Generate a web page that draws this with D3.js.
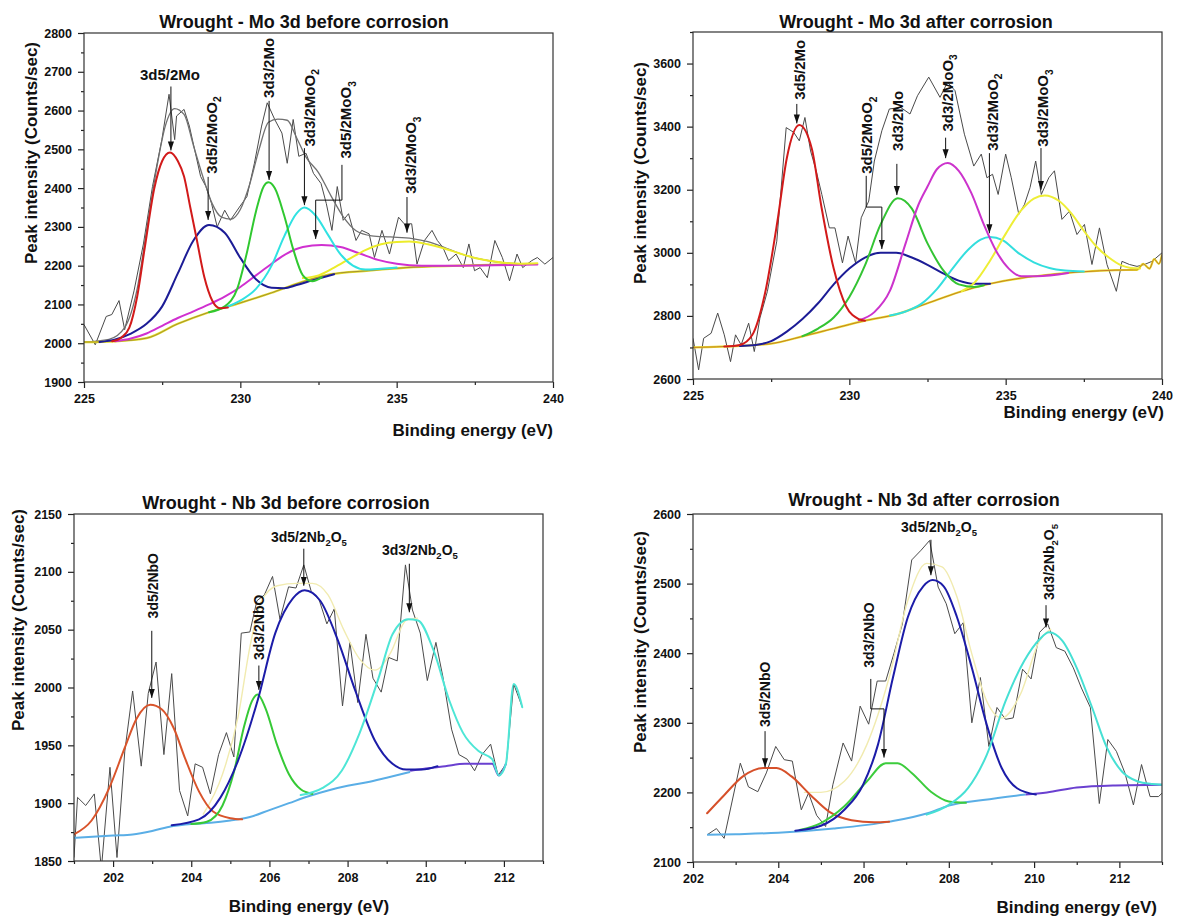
<!DOCTYPE html>
<html>
<head>
<meta charset="utf-8">
<script src="https://cdn.jsdelivr.net/npm/d3@7"></script>
<style>
  body { margin: 0; background: #fff; }
  svg { display: block; font-family: "Liberation Sans", Arial, sans-serif; }
</style>
</head>
<body>
<svg id="chart" width="1177" height="921"></svg>
<script>
// ---- Mo 3d before corrosion ----
const moBeforeE = [225.0,225.36,225.71,225.89,226.12,226.3,226.6,226.9,227.19,227.49,227.72,227.9,227.96,228.2,228.37,228.73,228.9,229.08,229.26,229.5,229.68,229.97,230.21,230.45,230.68,230.86,231.1,231.33,231.5,231.69,231.87,232.1,232.34,232.58,232.75,232.93,233.1,233.29,233.46,233.7,233.88,234.12,234.29,234.53,234.77,235.06,235.24,235.48,235.65,235.89,236.13,236.3,236.48,236.66,236.9,237.13,237.31,237.49,237.67,237.9,238.14,238.38,238.61,238.85,239.03,239.32,239.5,239.74,240.0]
const moBeforeC = [2048,1996,2069,2074,2110,2035,2135,2256,2404,2525,2642,2525,2586,2603,2560,2430,2404,2360,2300,2343,2317,2351,2378,2464,2560,2620,2577,2542,2464,2577,2482,2490,2438,2412,2360,2291,2404,2317,2334,2265,2291,2282,2221,2291,2230,2325,2308,2308,2204,2265,2291,2265,2247,2213,2230,2195,2256,2187,2195,2169,2265,2221,2161,2230,2195,2213,2221,2204,2221]
const moBeforeEnvelope = [[225.0,2003],[225.8,2010],[226.3,2040],[226.7,2140],[227.0,2290],[227.3,2440],[227.6,2560],[227.9,2605],[228.2,2590],[228.5,2510],[228.8,2430],[229.1,2360],[229.4,2325],[229.7,2320],[230.0,2345],[230.3,2410],[230.6,2500],[230.9,2570],[231.2,2578],[231.5,2575],[231.8,2530],[232.1,2480],[232.5,2440],[232.9,2380],[233.3,2325],[233.7,2290],[234.2,2277],[234.8,2274],[235.5,2270],[236.0,2262],[236.5,2248],[237.0,2232],[237.5,2220],[238.0,2212],[238.5,2207],[239.3,2205]]
const moBeforeBase = [[225,2003],[226,2005],[227,2013],[228,2050],[229,2080],[230,2104],[231,2130],[231.75,2152],[232.9,2178],[234.1,2187],[235.3,2195],[237,2200],[239.3,2205]]
const moBeforeRed = [[225.9,2005],[226.2,2015],[226.45,2040],[226.7,2120],[226.95,2250],[227.25,2400],[227.5,2470],[227.75,2492],[228.0,2470],[228.2,2430],[228.4,2350],[228.6,2270],[228.85,2170],[229.1,2110],[229.35,2090],[229.6,2092]]
const moBeforeBlue = [[225.5,2003],[226.0,2010],[226.5,2025],[227.0,2050],[227.5,2095],[228.0,2180],[228.5,2265],[229.0,2305],[229.5,2285],[230.0,2220],[230.5,2165],[231.0,2143],[231.4,2142],[231.8,2150],[232.3,2162],[233.0,2178]]
const moBeforeGreen = [[229.0,2080],[229.5,2095],[229.9,2140],[230.2,2230],[230.5,2340],[230.75,2405],[230.9,2415],[231.1,2400],[231.4,2330],[231.7,2240],[232.0,2175],[232.3,2160],[232.6,2170]]
const moBeforeCyan = [[229.5,2092],[230.0,2110],[230.5,2140],[231.0,2200],[231.4,2275],[231.8,2335],[232.05,2350],[232.4,2330],[232.8,2280],[233.2,2230],[233.6,2200],[234.0,2190],[234.5,2192],[235.0,2195]]
const moBeforeMagenta = [[226.0,2005],[226.5,2012],[227.0,2025],[227.5,2045],[228.0,2065],[228.5,2082],[229.0,2100],[229.5,2120],[230.0,2145],[230.5,2175],[231.0,2205],[231.5,2232],[232.0,2248],[232.6,2253],[233.2,2248],[233.8,2232],[234.4,2215],[235.0,2205],[235.8,2200],[237.0,2200],[239.5,2203]]
const moBeforeYellow = [[232.0,2168],[232.5,2175],[233.0,2195],[233.5,2218],[234.0,2240],[234.5,2255],[235.0,2261],[235.4,2262],[236.0,2255],[236.5,2245],[237.0,2232],[237.5,2220],[238.0,2212],[238.5,2207],[239.0,2205],[239.5,2206]]

// ---- Mo 3d after corrosion ----
const moAfterE = [225.0,225.18,225.34,225.58,225.79,226.0,226.2,226.36,226.54,226.78,226.96,227.14,227.38,227.68,227.98,228.22,228.4,228.58,228.76,228.94,229.12,229.36,229.54,229.78,229.96,230.2,230.38,230.62,230.8,231.04,231.28,231.64,231.94,232.18,232.54,232.9,233.14,233.38,233.68,233.98,234.22,234.4,234.58,234.76,235.0,235.18,235.42,235.6,235.78,235.96,236.14,236.38,236.56,236.8,237.04,237.28,237.52,237.76,238.0,238.24,238.54,238.72,238.96,239.2,239.44,239.68,240.0]
const moAfterC = [2729,2629,2729,2745,2809,2740,2655,2740,2708,2777,2687,2793,2878,3037,3397,3382,3355,3429,3323,3260,3185,3079,3079,2968,3053,2968,3111,3164,3291,3387,3456,3461,3440,3498,3557,3493,3541,3514,3376,3275,3313,3238,3249,3185,3313,3238,3122,3153,3207,3291,3185,3238,3260,3106,3132,3058,3090,2963,3079,2963,2878,2973,2963,2957,2963,2973,3000]
const moAfterBase = [[225,2700],[226.5,2705],[227.5,2712],[228.5,2735],[229.5,2760],[230.5,2785],[231.5,2805],[232.5,2840],[233.5,2875],[234.5,2902],[235.5,2920],[236.5,2932],[237.5,2940],[238.5,2945],[239.2,2946],[239.4,2965],[239.6,2950],[239.75,2980],[239.9,2965],[240,2995]]
const moAfterRed = [[226.0,2703],[226.5,2708],[226.9,2740],[227.3,2870],[227.7,3100],[228.0,3300],[228.4,3405],[228.8,3330],[229.1,3150],[229.5,2950],[229.9,2830],[230.3,2790],[230.5,2785]]
const moAfterBlue = [[226.5,2705],[227.0,2708],[227.5,2720],[228.0,2750],[228.5,2790],[229.0,2840],[229.5,2900],[230.0,2950],[230.5,2985],[231.0,3000],[231.5,3000],[232.0,2985],[232.5,2962],[233.0,2935],[233.5,2912],[234.0,2902],[234.5,2902]]
const moAfterGreen = [[228.5,2736],[229.0,2760],[229.5,2795],[230.0,2860],[230.5,2960],[231.0,3090],[231.55,3173],[232.0,3140],[232.5,3030],[233.0,2945],[233.5,2900],[234.0,2892],[234.3,2897]]
const moAfterMagenta = [[230.3,2786],[230.8,2812],[231.3,2880],[231.8,3030],[232.2,3150],[232.5,3210],[232.8,3265],[233.15,3285],[233.5,3260],[233.9,3190],[234.3,3090],[234.7,3005],[235.1,2950],[235.5,2926],[236.0,2926],[237.0,2936]]
const moAfterCyan = [[231.3,2801],[231.8,2814],[232.3,2838],[232.8,2885],[233.3,2950],[233.8,3010],[234.2,3042],[234.5,3050],[234.9,3040],[235.4,3000],[235.9,2970],[236.4,2952],[236.9,2944],[237.5,2941]]
const moAfterYellow = [[233.6,2879],[234.0,2905],[234.5,2975],[235.0,3060],[235.5,3135],[235.9,3172],[236.25,3182],[236.7,3165],[237.1,3125],[237.5,3070],[237.9,3020],[238.3,2985],[238.7,2960],[239.0,2952],[239.3,2950]]

// ---- Nb 3d before corrosion ----
const nbBeforeE = [201.0,201.09,201.3,201.52,201.7,201.92,202.1,202.3,202.5,202.72,202.9,203.1,203.3,203.5,203.7,203.91,204.1,204.29,204.49,204.7,204.9,205.09,205.28,205.5,205.68,205.87,206.08,206.27,206.49,206.68,206.88,207.07,207.27,207.47,207.66,207.87,208.06,208.26,208.47,208.65,208.86,209.05,209.27,209.48,209.66,209.86,210.04,210.26,210.44,210.66,210.85,211.06,211.25,211.44,211.66,211.85,212.06,212.25,212.47]
const nbBeforeC = [1853,1905,1898,1908,1843,1931,1853,1945,1997,1932,1995,2022,1942,2012,1911,1889,1934,1931,1908,1942,1961,1940,2047,2048,2075,2080,2096,2059,2087,2086,2106,2083,2076,2055,2068,1984,2039,1987,2046,2008,1996,2026,2023,2106,2067,2047,2006,2039,2009,1964,1942,1938,1928,1942,1951,1924,1934,2003,1983]
const nbBeforeEnvelope = [[204.3,1890],[204.8,1925],[205.2,1975],[205.5,2035],[205.8,2075],[206.2,2088],[206.7,2090],[207.1,2090],[207.5,2080],[207.9,2050],[208.3,2025],[208.7,2015],[209.1,2030],[209.5,2058],[209.8,2060]]
const nbBeforeBase = [[201.0,1870],[202.0,1872],[202.5,1873],[203.0,1876],[203.5,1880],[204.0,1882],[204.5,1883],[205.0,1885],[205.5,1888],[206.0,1894],[206.5,1900],[207.0,1906],[207.5,1911],[208.0,1915],[208.5,1918],[209.0,1922],[209.6,1927]]
const nbBeforeTail = [[209.6,1928],[210.0,1930],[210.5,1932],[211.0,1934],[211.7,1934],[211.87,1924],[212.05,1934]]
const nbBeforeOrange = [[201.0,1873],[201.45,1885],[201.9,1913],[202.3,1948],[202.6,1973],[202.95,1985],[203.25,1981],[203.55,1965],[203.85,1938],[204.2,1910],[204.55,1893],[205.0,1887],[205.3,1886]]
const nbBeforeGreen = [[204.0,1882],[204.4,1884],[204.8,1898],[205.1,1928],[205.35,1966],[205.55,1988],[205.7,1994],[205.9,1982],[206.2,1950],[206.5,1925],[206.8,1912],[207.1,1908]]
const nbBeforeBlue = [[203.5,1881],[204.2,1886],[204.75,1905],[205.2,1937],[205.7,1989],[206.15,2047],[206.6,2077],[206.9,2084],[207.3,2075],[207.75,2041],[208.2,1997],[208.7,1954],[209.15,1934],[209.5,1929],[209.9,1929],[210.3,1932]]
const nbBeforeCyan = [[206.8,1907],[207.35,1913],[207.85,1928],[208.3,1960],[208.8,2009],[209.15,2046],[209.55,2059],[209.8,2058],[210.2,2032],[210.6,1989],[210.95,1961],[211.35,1945],[211.7,1938],[211.87,1924],[212.05,1934],[212.25,2003],[212.47,1983]]

// ---- Nb 3d after corrosion ----
const nbAfterE = [202.33,202.55,202.73,203.11,203.3,203.52,203.72,203.94,204.14,204.33,204.54,204.71,204.9,205.11,205.28,205.52,205.72,205.92,206.12,206.32,206.52,206.71,206.91,207.13,207.35,207.55,207.75,207.94,208.14,208.34,208.54,208.74,208.94,209.13,209.33,209.51,209.73,209.93,210.13,210.32,210.52,210.72,210.92,211.11,211.32,211.53,211.73,211.93,212.13,212.33,212.52,212.72,212.92,213.0]
const nbAfterC = [2139,2148,2134,2242,2208,2201,2228,2266,2247,2245,2175,2199,2167,2151,2211,2271,2245,2324,2298,2360,2360,2399,2442,2534,2548,2562,2495,2471,2428,2444,2300,2365,2266,2322,2305,2307,2377,2363,2430,2442,2408,2403,2379,2350,2322,2184,2276,2259,2228,2182,2240,2194,2194,2199]
const nbAfterEnvelope = [[204.6,2200],[205.0,2200],[205.55,2216],[206.08,2269],[206.6,2365],[207.04,2476],[207.48,2529],[207.84,2524],[208.19,2481],[208.54,2399],[208.89,2331],[209.24,2307],[209.68,2341],[210.13,2418],[210.4,2435]]
const nbAfterBase = [[202.33,2139],[203.0,2140],[204.0,2142],[205.3,2148],[206.6,2158],[207.5,2170],[208.0,2181],[208.8,2189],[209.8,2197]]
const nbAfterTail = [[209.8,2197],[210.3,2200],[211.0,2207],[211.9,2210],[213.0,2211]]
const nbAfterOrange = [[202.33,2170],[202.73,2196],[203.17,2223],[203.65,2235],[203.96,2235],[204.31,2223],[204.76,2196],[205.2,2172],[205.72,2160],[206.25,2157],[206.6,2158]]
const nbAfterGreen = [[204.5,2146],[205.0,2156],[205.55,2180],[206.08,2216],[206.52,2242],[206.8,2242],[207.13,2228],[207.58,2201],[208.0,2187],[208.4,2185]]
const nbAfterBlue = [[204.4,2145],[205.0,2152],[205.55,2175],[205.99,2211],[206.34,2269],[206.69,2365],[207.04,2452],[207.4,2496],[207.62,2505],[207.88,2496],[208.19,2452],[208.54,2379],[208.89,2297],[209.24,2235],[209.6,2206],[210.04,2197]]
const nbAfterCyan = [[207.48,2168],[208.0,2182],[208.45,2206],[208.89,2254],[209.33,2331],[209.77,2389],[210.13,2420],[210.35,2430],[210.66,2418],[211.0,2379],[211.36,2322],[211.71,2264],[212.06,2230],[212.42,2216],[212.77,2212],[213.0,2211]]

// ---- tick values ----
const moXTicks = [225, 230, 235, 240]
const moBeforeYTicks = [1900, 2000, 2100, 2200, 2300, 2400, 2500, 2600, 2700, 2800]
const moAfterYTicks = [2600, 2800, 3000, 3200, 3400, 3600]
const nbXTicks = [202, 204, 206, 208, 210, 212]
const nbBeforeYTicks = [1850, 1900, 1950, 2000, 2050, 2100, 2150]
const nbAfterYTicks = [2100, 2200, 2300, 2400, 2500, 2600]

// ---- peak annotations (data coords) ----
const moBeforeLabels = [
  { t: '3d5/2Mo', x: 227.75, y: 2694, rot: false, arrow: [[227.78, 2662], [227.78, 2497]] },
  { t: '3d5/2MoO_2', x: 229.08, y: 2537, rot: true, arrow: [[228.97, 2429], [228.97, 2318]] },
  { t: '3d3/2Mo', x: 230.92, y: 2710, rot: true, arrow: [[230.92, 2625], [230.92, 2421]] },
  { t: '3d3/2MoO_2', x: 232.2, y: 2607, rot: true, arrow: [[232.05, 2503], [232.05, 2356]] },
  { t: '3d5/2MoO_3', x: 233.38, y: 2576, rot: true, arrow: [[233.25, 2460], [233.25, 2369], [232.41, 2369], [232.41, 2269]] },
  { t: '3d3/2MoO_3', x: 235.45, y: 2485, rot: true, arrow: [[235.33, 2377], [235.33, 2285]] }
]
const moAfterLabels = [
  { t: '3d5/2Mo', x: 228.41, y: 3580, rot: true, arrow: [[228.32, 3472], [228.32, 3410]] },
  { t: '3d5/2MoO_2', x: 230.56, y: 3373, rot: true, arrow: [[230.54, 3244], [230.54, 3145], [231.04, 3145], [231.04, 3012]] },
  { t: '3d3/2Mo', x: 231.55, y: 3418, rot: true, arrow: [[231.52, 3282], [231.52, 3183]] },
  { t: '3d3/2MoO_3', x: 233.14, y: 3507, rot: true, arrow: [[233.08, 3365], [233.08, 3300]] },
  { t: '3d3/2MoO_2', x: 234.58, y: 3446, rot: true, arrow: [[234.48, 3316], [234.48, 3062]] },
  { t: '3d3/2MoO_3', x: 236.19, y: 3459, rot: true, arrow: [[236.13, 3332], [236.13, 3200]] }
]
const nbBeforeLabels = [
  { t: '3d5/2NbO', x: 203.03, y: 2088, rot: true, arrow: [[202.99, 2049], [202.99, 1991]] },
  { t: '3d3/2NbO', x: 205.73, y: 2052, rot: true, arrow: [[205.73, 2019], [205.73, 1998]] },
  { t: '3d5/2Nb_2O_5', x: 207.01, y: 2130, rot: false, arrow: [[206.88, 2120], [206.88, 2088]] },
  { t: '3d3/2Nb_2O_5', x: 209.85, y: 2119, rot: false, arrow: [[209.58, 2107], [209.58, 2065]] }
]
const nbAfterLabels = [
  { t: '3d5/2NbO', x: 203.69, y: 2341, rot: true, arrow: [[203.69, 2288], [203.69, 2236]] },
  { t: '3d3/2NbO', x: 206.13, y: 2426, rot: true, arrow: [[206.17, 2363], [206.17, 2320], [206.48, 2320], [206.48, 2250]] },
  { t: '3d5/2Nb_2O_5', x: 207.77, y: 2581, rot: false, arrow: [[207.58, 2563], [207.58, 2512]] },
  { t: '3d3/2Nb_2O_5', x: 210.34, y: 2531, rot: true, arrow: [[210.28, 2469], [210.28, 2437]] }
]

const panels = [
  {
    title: 'Wrought - Mo 3d before corrosion', titleX: 304, titleY: 28,
    box: [84, 33, 469, 349], xDomain: [225, 240], yDomain: [1900, 2800],
    xTicks: moXTicks, xMinor: [227.5, 232.5, 237.5], yTicks: moBeforeYTicks, yMinor: d3.range(1950, 2800, 100),
    yLabel: [31, 153], xLabel: { x: 553, y: 436, anchor: 'end' },
    raw: [moBeforeE, moBeforeC], envelope: moBeforeEnvelope,
    base: [{ d: moBeforeBase, c: '#e4dc26', w: 2.2 }, { d: moBeforeBase, c: '#8a7234', w: 0.7 }],
    comps: [
      { d: moBeforeMagenta, c: '#d030d0' }, { d: moBeforeYellow, c: '#ecec2a' },
      { d: moBeforeBlue, c: '#1c1c96' }, { d: moBeforeCyan, c: '#30e2e2' },
      { d: moBeforeGreen, c: '#30c830' }, { d: moBeforeRed, c: '#d21a1a' }
    ],
    labels: moBeforeLabels, fs: 15
  },
  {
    title: 'Wrought - Mo 3d after corrosion', titleX: 916, titleY: 28,
    box: [693, 32, 469, 347], xDomain: [225, 240], yDomain: [2600, 3700],
    xTicks: moXTicks, xMinor: [227.5, 232.5, 237.5], yTicks: moAfterYTicks, yMinor: d3.range(2700, 3701, 200),
    yLabel: [640, 173], xLabel: { x: 1164, y: 418, anchor: 'end' },
    raw: [moAfterE, moAfterC], envelope: null,
    base: [{ d: moAfterBase, c: '#e8e030', w: 2.2 }, { d: moAfterBase, c: '#b8561e', w: 0.7 }],
    comps: [
      { d: moAfterBlue, c: '#1c1c96' }, { d: moAfterCyan, c: '#33dede' },
      { d: moAfterYellow, c: '#eeee36' }, { d: moAfterGreen, c: '#33c433' },
      { d: moAfterMagenta, c: '#cc33cc' }, { d: moAfterRed, c: '#d21a1a' }
    ],
    labels: moAfterLabels, fs: 15
  },
  {
    title: 'Wrought - Nb 3d before corrosion', titleX: 286, titleY: 509,
    box: [74, 514, 469, 347], xDomain: [201, 213], yDomain: [1850, 2150],
    xTicks: nbXTicks, xMinor: [201, 203, 205, 207, 209, 211, 213], yTicks: nbBeforeYTicks, yMinor: d3.range(1875, 2150, 50),
    yLabel: [18, 620], xLabel: { x: 309, y: 912, anchor: 'middle' },
    raw: [nbBeforeE, nbBeforeC], envelope: nbBeforeEnvelope,
    base: [{ d: nbBeforeBase, c: '#5aaee6', w: 2 }, { d: nbBeforeTail, c: '#6a40d0', w: 2 }],
    comps: [
      { d: nbBeforeOrange, c: '#d9542b' }, { d: nbBeforeGreen, c: '#36c936' },
      { d: nbBeforeBlue, c: '#1c1ca8' }, { d: nbBeforeCyan, c: '#4ee6d6' }
    ],
    labels: nbBeforeLabels, fs: 14
  },
  {
    title: 'Wrought - Nb 3d after corrosion', titleX: 924, titleY: 506,
    box: [693, 514, 469, 348], xDomain: [202, 213], yDomain: [2100, 2600],
    xTicks: nbXTicks, xMinor: [203, 205, 207, 209, 211, 213], yTicks: nbAfterYTicks, yMinor: d3.range(2150, 2600, 100),
    yLabel: [640, 642], xLabel: { x: 1157, y: 913, anchor: 'end' },
    raw: [nbAfterE, nbAfterC], envelope: nbAfterEnvelope,
    base: [{ d: nbAfterBase, c: '#5aaee6', w: 2 }, { d: nbAfterTail, c: '#6a40d0', w: 2 }],
    comps: [
      { d: nbAfterOrange, c: '#d6502a' }, { d: nbAfterGreen, c: '#3ccc3c' },
      { d: nbAfterBlue, c: '#1c1ca8' }, { d: nbAfterCyan, c: '#46e0d4' }
    ],
    labels: nbAfterLabels, fs: 14
  }
]

const svg = d3.select('#chart')
const defs = svg.append('defs')

defs.append('marker')
    .attr('id', 'arrowhead')
    .attr('viewBox', '0 0 10 10')
    .attr('refX', 10)
    .attr('refY', 5)
    .attr('markerUnits', 'userSpaceOnUse')
    .attr('markerWidth', 9)
    .attr('markerHeight', 9)
    .attr('orient', 'auto')
  .append('path')
    .attr('d', 'M0,1.6L10,5L0,8.4Z')
    .attr('fill', '#111')

// writes "3d5/2MoO_2" with the _digit as a subscript
function labelText(sel, str, fs) {
  const parts = str.split(/(_\d)/).filter(s => s)
  let lowered = false
  parts.forEach(p => {
    if (p[0] === '_') {
      sel.append('tspan').attr('dy', fs * 0.3).attr('font-size', fs * 0.68).text(p.slice(1))
      lowered = true
    } else {
      const t = sel.append('tspan').text(p)
      if (lowered) t.attr('dy', -fs * 0.3)
      lowered = false
    }
  })
}

panels.forEach((p, i) => {
  const [L, T, W, H] = p.box
  const x = d3.scaleLinear().domain(p.xDomain).range([L, L + W])
  const y = d3.scaleLinear().domain(p.yDomain).range([T + H, T])
  const g = svg.append('g')

  defs.append('clipPath').attr('id', 'clip' + i)
    .append('rect').attr('x', L).attr('y', T).attr('width', W).attr('height', H)

  const plot = g.append('g').attr('clip-path', `url(#clip${i})`)
  const straight = d3.line().x(d => x(d[0])).y(d => y(d[1]))
  const smooth = d3.line().x(d => x(d[0])).y(d => y(d[1])).curve(d3.curveMonotoneX)

  plot.append('path')
      .datum(d3.zip(p.raw[0], p.raw[1]))
      .attr('d', straight)
      .attr('fill', 'none')
      .attr('stroke', '#4a4a4a')
      .attr('stroke-width', 1)

  if (p.envelope) {
    plot.append('path')
        .datum(p.envelope)
        .attr('d', smooth)
        .attr('fill', 'none')
        .attr('stroke', i === 0 ? '#707070' : '#f1ebb0')
        .attr('stroke-width', i === 0 ? 1.3 : 1.4)
  }

  p.base.forEach(b => {
    plot.append('path')
        .datum(b.d)
        .attr('d', smooth)
        .attr('fill', 'none')
        .attr('stroke', b.c)
        .attr('stroke-width', b.w)
  })

  plot.selectAll('path.comp')
    .data(p.comps)
    .enter().append('path')
      .attr('class', 'comp')
      .attr('d', d => smooth(d.d))
      .attr('fill', 'none')
      .attr('stroke', d => d.c)
      .attr('stroke-width', 2)
      .attr('stroke-linejoin', 'round')
      .attr('stroke-linecap', 'round')

  // axes
  const styleAxis = a => {
    a.select('.domain').remove()
    a.selectAll('line').attr('stroke', '#222').attr('stroke-width', 1.2)
    a.selectAll('text')
      .attr('fill', '#111')
      .style('font-size', '12.5px')
      .style('font-weight', 'bold')
      .style('font-family', '"Liberation Sans", Arial, sans-serif')
  }

  g.append('g').attr('transform', `translate(0,${T + H})`)
    .call(d3.axisBottom(x).tickValues(p.xMinor).tickSize(3).tickFormat('').tickSizeOuter(0))
    .call(styleAxis)
  g.append('g').attr('transform', `translate(0,${T + H})`)
    .call(d3.axisBottom(x).tickValues(p.xTicks).tickSize(6).tickPadding(6).tickFormat(d3.format('d')).tickSizeOuter(0))
    .call(styleAxis)
  g.append('g').attr('transform', `translate(${L},0)`)
    .call(d3.axisLeft(y).tickValues(p.yMinor).tickSize(3).tickFormat('').tickSizeOuter(0))
    .call(styleAxis)
  g.append('g').attr('transform', `translate(${L},0)`)
    .call(d3.axisLeft(y).tickValues(p.yTicks).tickSize(6).tickPadding(6).tickFormat(d3.format('d')).tickSizeOuter(0))
    .call(styleAxis)

  g.append('rect')
      .attr('x', L).attr('y', T).attr('width', W).attr('height', H)
      .attr('fill', 'none')
      .attr('stroke', '#333')
      .attr('stroke-width', 1.2)

  // titles
  g.append('text')
      .attr('x', p.titleX).attr('y', p.titleY)
      .attr('text-anchor', 'middle')
      .style('font-size', '18px')
      .style('font-weight', 'bold')
      .attr('fill', '#111')
      .text(p.title)

  g.append('text')
      .attr('transform', `translate(${p.yLabel[0] + 6},${p.yLabel[1]})rotate(-90)`)
      .attr('text-anchor', 'middle')
      .style('font-size', '17px')
      .style('font-weight', 'bold')
      .attr('fill', '#111')
      .text('Peak intensity (Counts/sec)')

  g.append('text')
      .attr('x', p.xLabel.x).attr('y', p.xLabel.y)
      .attr('text-anchor', p.xLabel.anchor)
      .style('font-size', '17px')
      .style('font-weight', 'bold')
      .attr('fill', '#111')
      .text('Binding energy (eV)')

  // peak labels and arrows
  p.labels.forEach(lab => {
    g.append('path')
        .datum(lab.arrow)
        .attr('d', straight)
        .attr('fill', 'none')
        .attr('stroke', '#111')
        .attr('stroke-width', 1)
        .attr('marker-end', 'url(#arrowhead)')

    const px = x(lab.x), py = y(lab.y)
    const t = g.append('text')
        .attr('text-anchor', 'middle')
        .style('font-size', p.fs + 'px')
        .style('font-weight', 'bold')
        .attr('fill', '#111')
        .attr('transform', lab.rot
          ? `translate(${px + p.fs * 0.36},${py})rotate(-90)`
          : `translate(${px},${py + p.fs * 0.36})`)
    labelText(t, lab.t, p.fs)
  })
})
</script>
</body>
</html>
